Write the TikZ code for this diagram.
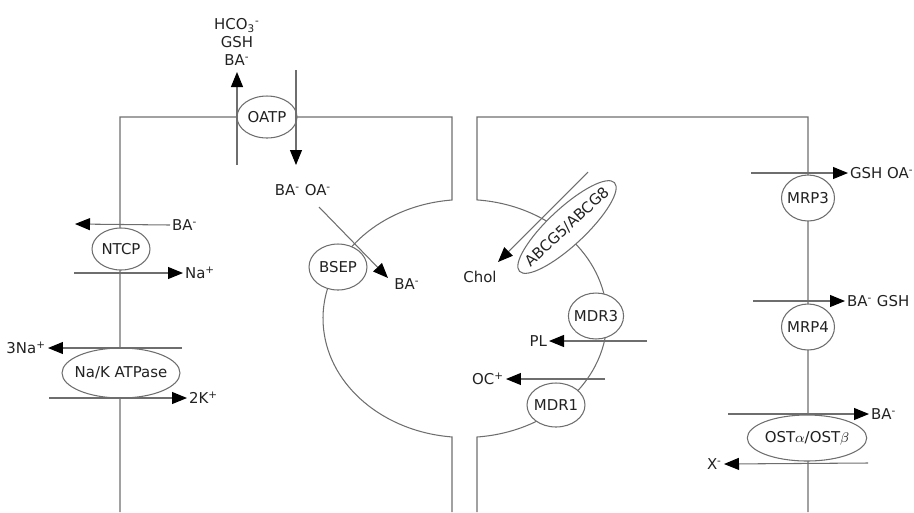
\documentclass[tikz,border=0pt]{standalone}
\usepackage{fontspec}
\setmainfont{DejaVu Sans}
\usetikzlibrary{arrows.meta,shapes.geometric}
\newcommand{\ionm}{\textsuperscript{-}}
\newcommand{\ionp}{\textsuperscript{+}}
\definecolor{wallgray}{HTML}{6E6E6E}
\definecolor{inkgray}{HTML}{222222}
\tikzset{
  membrane/.style={draw=wallgray, line width=0.6pt},
  pump/.style={ellipse, draw=wallgray, fill=white, line width=0.6pt, inner sep=0pt, text=inkgray, font=\fontsize{8.5}{10}\selectfont},
  ion/.style={text=inkgray, inner sep=1pt, font=\fontsize{8.5}{10.2}\selectfont},
  flow/.style={-{Triangle[length=3mm, width=2.4mm, color=black]}, draw=wallgray, line width=0.6pt},
}

\begin{document}
\begin{tikzpicture}[x=0.02cm, y=-0.02cm]
    \useasboundingbox (0,0) rectangle (914,512);
    \draw[membrane] (120,512) -- (120,117) -- (452,117) -- (452,200)
      arc[start angle=95.25, end angle=264.75, x radius=2.84cm, y radius=2.38cm] -- (452,512);
    \draw[membrane] (477,512) -- (477,437)
      arc[start angle=-85.15, end angle=85.15, x radius=2.84cm, y radius=2.38cm] -- (477,117) -- (808,117) -- (808,512);
    \coordinate (oatp-out0) at (237,165);
    \coordinate (oatp-out1) at (237,72);
    \coordinate (oatp-in0) at (296,70);
    \coordinate (oatp-in1) at (296,165);
    \coordinate (ntcp-ba) at (75,224);
    \coordinate (ntcp-na) at (74,273);
    \coordinate (nak-na) at (182,348);
    \coordinate (nak-k) at (49,398);
    \coordinate (bsep-in) at (319,207);
    \coordinate (bsep-out) at (388,278);
    \coordinate (abcg-in) at (588,172);
    \coordinate (abcg-out) at (498,262);
    \coordinate (mdr3-in) at (647,341);
    \coordinate (mdr1-in) at (605,379);
    \coordinate (mrp3-in) at (751,173);
    \coordinate (mrp4-in) at (753,301);
    \coordinate (ost-in) at (728,414);
    \coordinate (ost-x) at (868,463);
    \node[pump, minimum width=1.2cm, minimum height=0.84cm] (oatp) at (267,117) {OATP};
    \node[pump, minimum width=1.16cm, minimum height=0.84cm] (ntcp) at (121,249) {NTCP};
    \node[pump, minimum width=2.36cm, minimum height=1cm, inner xsep=-5.5pt] (nak) at (121,373) {Na/K ATPase};
    \node[pump, minimum width=1.16cm, minimum height=0.92cm] (bsep) at (338,267) {BSEP};
    \node[pump, minimum width=2.6cm, minimum height=0.74cm, inner xsep=-5pt, rotate=43] (abcg) at (567,227) {ABCG5/ABCG8};
    \node[pump, minimum width=1.1cm, minimum height=0.92cm, inner xsep=-1.5pt] (mdr3) at (596,316) {MDR3};
    \node[pump, minimum width=1.16cm, minimum height=0.88cm, inner xsep=-1pt] (mdr1) at (556,405) {MDR1};
    \node[pump, minimum width=1.06cm, minimum height=0.92cm, inner xsep=-1.3pt] (mrp3) at (808,198) {MRP3};
    \node[pump, minimum width=1.06cm, minimum height=0.92cm, inner xsep=-1.3pt] (mrp4) at (808,327) {MRP4};
    \node[pump, minimum width=2.34cm, minimum height=0.92cm] (ost) at (807,438) {OST$\alpha$/OST$\beta$};
    \node[ion, align=center] (effl) at (237,42) {HCO\textsubscript{3}\ionm\\GSH\\BA\ionm};
    \node[ion] (baoa) at (303,190) {BA\ionm{} OA\ionm};
    \node[ion, anchor=west] (ba1) at (170,225) {BA\ionm};
    \node[ion, anchor=west] (na1) at (183,273) {Na\ionp};
    \node[ion, anchor=east] (na3) at (48,348) {3Na\ionp};
    \node[ion, anchor=west] (k2) at (187,398) {2K\ionp};
    \node[ion] (ba2) at (407,284) {BA\ionm};
    \node[ion] (chol) at (480,277) {Chol};
    \node[ion, anchor=east] (pl) at (549,341) {PL};
    \node[ion, anchor=east] (oc) at (506,379) {OC\ionp};
    \node[ion, anchor=west] (gshoa) at (848,173) {GSH OA\ionm};
    \node[ion, anchor=west] (bagsh) at (845,301) {BA\ionm{} GSH};
    \node[ion, anchor=west] (ba3) at (869,414) {BA\ionm};
    \node[ion, anchor=east] (xm) at (724,464) {X\ionm};
    \draw[flow] (oatp-out0) -- (oatp-out1);
    \draw[flow] (oatp-in0) -- (oatp-in1);
    \draw[flow] (ba1.west) -- (ntcp-ba);
    \draw[flow] (ntcp-na) -- (na1.west);
    \draw[flow] (nak-na) -- (na3.east);
    \draw[flow] (nak-k) -- (k2.west);
    \draw[flow] (bsep-in) -- (bsep-out);
    \draw[flow] (abcg-in) -- (abcg-out);
    \draw[flow] (mdr3-in) -- (pl.east);
    \draw[flow] (mdr1-in) -- (oc.east);
    \draw[flow] (mrp3-in) -- (gshoa.west);
    \draw[flow] (mrp4-in) -- (bagsh.west);
    \draw[flow] (ost-in) -- (ba3.west);
    \draw[flow] (ost-x) -- (xm.east);
\end{tikzpicture}
\end{document}
